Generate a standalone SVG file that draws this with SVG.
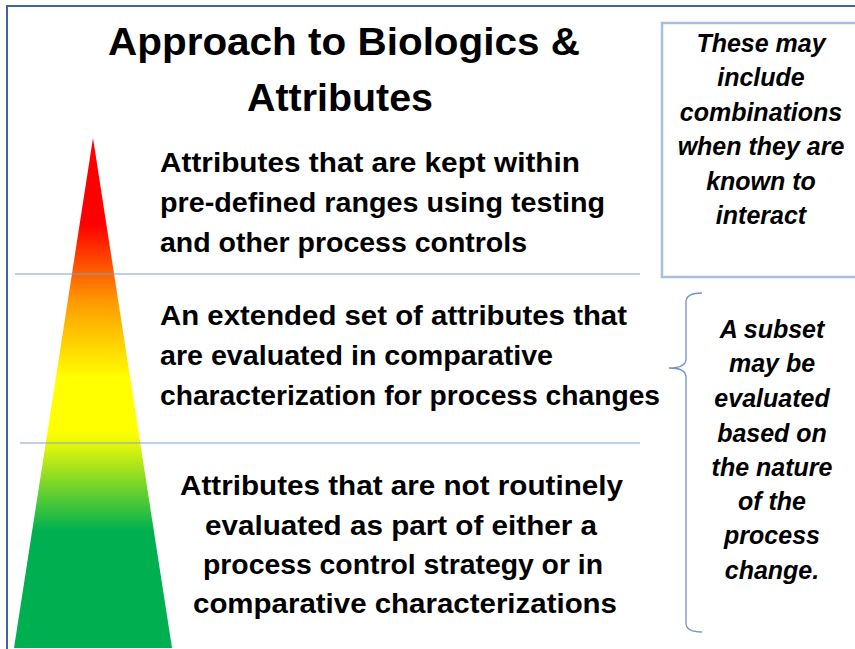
<svg xmlns="http://www.w3.org/2000/svg" width="855" height="649" viewBox="0 0 855 649">
  <defs>
    <linearGradient id="pyr" x1="0" y1="138" x2="0" y2="648" gradientUnits="userSpaceOnUse">
      <stop offset="0" stop-color="#FF0000"/>
      <stop offset="0.17" stop-color="#FF0000"/>
      <stop offset="0.32" stop-color="#FF9900"/>
      <stop offset="0.47" stop-color="#FFFF00"/>
      <stop offset="0.58" stop-color="#FFFF00"/>
      <stop offset="0.77" stop-color="#00B050"/>
      <stop offset="1" stop-color="#00B050"/>
    </linearGradient>
    <style>
      .title { font-family: "Liberation Sans", Arial, sans-serif; font-weight: bold; font-size: 38px; fill: #000; }
      .body { font-family: "Liberation Sans", Arial, sans-serif; font-weight: bold; font-size: 27px; fill: #000; }
      .note { font-family: "Liberation Sans", Arial, sans-serif; font-weight: bold; font-style: italic; font-size: 25px; fill: #000; text-anchor: middle; }
      .sep { stroke: #7C9FD3; stroke-width: 1.2; fill: none; }
      .brace { stroke: #6F93CC; stroke-width: 1.3; fill: none; }
    </style>
  </defs>
  <rect width="855" height="649" fill="#FFFFFF"/>
  <path d="M7,649 L7,6 L855,6" fill="none" stroke="#3F64A0" stroke-width="2"/>

  <g id="title">
    <text class="title" x="108" y="55" textLength="472" lengthAdjust="spacingAndGlyphs">Approach to Biologics &amp;</text>
    <text class="title" x="247" y="111" textLength="186" lengthAdjust="spacingAndGlyphs">Attributes</text>
  </g>

  <g id="pyramid">
    <polygon points="93,138 172,648 14,648" fill="url(#pyr)"/>
  </g>

  <g id="connectors">
    <line class="sep" x1="15" y1="274" x2="640" y2="274"/>
    <line class="sep" x1="20" y1="443" x2="640" y2="443"/>
    <path class="brace" d="M702,293 Q686,293 686,302 L686,359 Q686,368 669,368 Q686,368 686,377 L686,623 Q686,632 702,632"/>
  </g>

  <g id="tier-top">
    <text class="body" x="160" y="172" textLength="420" lengthAdjust="spacingAndGlyphs">Attributes that are kept within</text>
    <text class="body" x="160" y="212" textLength="445" lengthAdjust="spacingAndGlyphs">pre-defined ranges using testing</text>
    <text class="body" x="160" y="252" textLength="367" lengthAdjust="spacingAndGlyphs">and other process controls</text>
  </g>

  <g id="tier-middle">
    <text class="body" x="160" y="325" textLength="467" lengthAdjust="spacingAndGlyphs">An extended set of attributes that</text>
    <text class="body" x="160" y="365" textLength="393" lengthAdjust="spacingAndGlyphs">are evaluated in comparative</text>
    <text class="body" x="160" y="405" textLength="500" lengthAdjust="spacingAndGlyphs">characterization for process changes</text>
  </g>

  <g id="tier-bottom">
    <text class="body" x="180" y="495" textLength="443" lengthAdjust="spacingAndGlyphs">Attributes that are not routinely</text>
    <text class="body" x="205" y="535" textLength="392" lengthAdjust="spacingAndGlyphs">evaluated as part of either a</text>
    <text class="body" x="203" y="574" textLength="400" lengthAdjust="spacingAndGlyphs">process control strategy or in</text>
    <text class="body" x="193" y="613" textLength="424" lengthAdjust="spacingAndGlyphs">comparative characterizations</text>
  </g>

  <g id="note-combinations">
    <rect x="662" y="23" width="200" height="254" fill="none" stroke="#A9BEDF" stroke-width="2.5"/>
    <text class="note" x="761" y="52">These may</text>
    <text class="note" x="761" y="86">include</text>
    <text class="note" x="761" y="121">combinations</text>
    <text class="note" x="761" y="155">when they are</text>
    <text class="note" x="761" y="190">known to</text>
    <text class="note" x="761" y="224">interact</text>
  </g>

  <g id="note-subset">
    <text class="note" x="772" y="338">A subset</text>
    <text class="note" x="772" y="372">may be</text>
    <text class="note" x="772" y="407">evaluated</text>
    <text class="note" x="772" y="442">based on</text>
    <text class="note" x="772" y="476">the nature</text>
    <text class="note" x="772" y="510">of the</text>
    <text class="note" x="772" y="544">process</text>
    <text class="note" x="772" y="579">change.</text>
  </g>
</svg>
